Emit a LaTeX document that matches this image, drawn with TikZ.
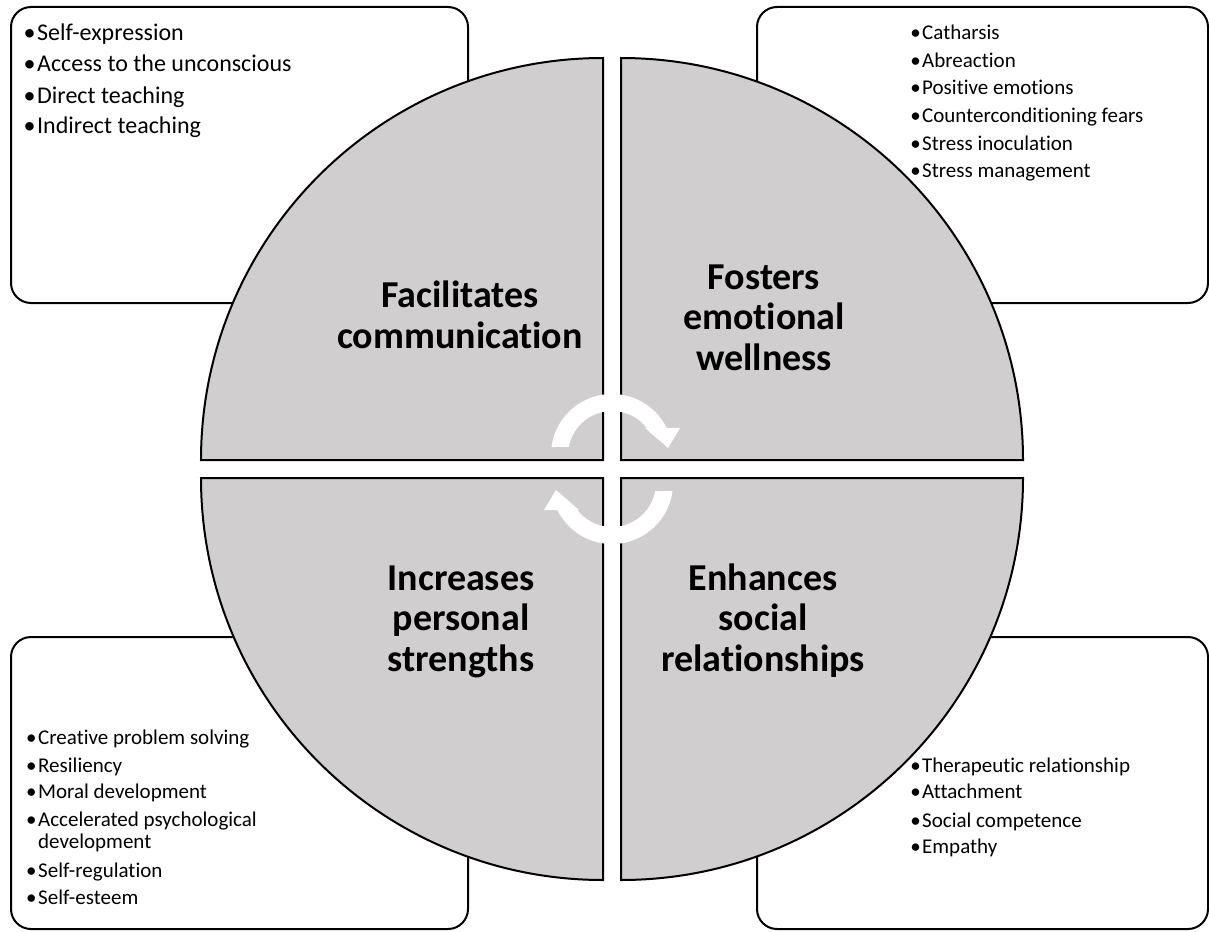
\documentclass[tikz,border=0pt]{standalone}
\usepackage{fontspec}
\setmainfont{Carlito}[Ligatures=NoCommon]
\definecolor{quadgray}{HTML}{D0CECE}
\newcommand{\bul}{\llap{•\kern1.5pt}}
\begin{document}
\begin{tikzpicture}[x=1pt,y=-1pt,
  box/.style={draw=black,line width=2pt,fill=white,rounded corners=20pt},
  quad/.style={draw=black,line width=2pt,fill=quadgray},
  cyc/.style={fill=white,draw=none},
  title/.style={font=\bfseries\fontsize{38}{40.5}\selectfont,align=center,inner sep=0pt,anchor=base},
  bigitem/.style={inner sep=0pt,anchor=base west,font=\fontsize{24}{29}\selectfont},
  item/.style={inner sep=0pt,anchor=base west,font=\fontsize{21}{23}\selectfont}]
\useasboundingbox (0,0) rectangle (1209,931);
% boxes
\draw[box] (11,7) rectangle (468,303);
\draw[box] (757,7) rectangle (1208,303);
\draw[box] (11,637) rectangle (468,929);
\draw[box] (757,637) rectangle (1208,929);
% quadrants
\draw[quad] (603,460) -- (201,460) arc[start angle=180,end angle=270,radius=402] -- cycle;
\draw[quad] (621,460) -- (621,58) arc[start angle=270,end angle=360,radius=402] -- cycle;
\draw[quad] (603,478) -- (603,880) arc[start angle=90,end angle=180,radius=402] -- cycle;
\draw[quad] (621,478) -- (1023,478) arc[start angle=0,end angle=90,radius=402] -- cycle;
% cycle arrows
\fill[cyc] (551.5,447) arc[start angle=-172.5,end angle=-26.3,radius=61] -- (680,428) -- (668,448) -- (645,428) -- (646.8,428) arc[start angle=-37.8,end angle=-169.5,radius=44] -- cycle;
\fill[cyc] (672.5,491) arc[start angle=7.5,end angle=153.7,radius=61] -- (544,510) -- (556,490) -- (579,510) -- (577.2,510) arc[start angle=142.2,end angle=10.5,radius=44] -- cycle;
% titles (anchor = baseline of last line)
\node[title] (tfc) at (460,348) {Facilitates\\communication};
\node[title] (tfe) at (764,370) {Fosters\\emotional\\wellness};
\node[title] (tip) at (461,671) {Increases\\personal\\strengths};
\node[title] (tes) at (763,671) {Enhances\\social\\relationships};
% top-left list
\node[bigitem] (a1) at (37,41) {\bul Self-expression};
\node[bigitem] (a2) at (37,72) {\bul Access to the unconscious};
\node[bigitem] (a3) at (37,103) {\bul Direct teaching};
\node[bigitem] (a4) at (37,133) {\bul Indirect teaching};
% top-right list
\node[item] (b1) at (922,40) {\bul Catharsis};
\node[item] (b2) at (922,68) {\bul Abreaction};
\node[item] (b3) at (922,95) {\bul Positive emotions};
\node[item] (b4) at (922,122) {\bul Counterconditioning fears};
\node[item] (b5) at (922,150) {\bul Stress inoculation};
\node[item] (b6) at (922,177) {\bul Stress management};
% bottom-left list
\node[item] (c1) at (38,744) {\bul Creative problem solving};
\node[item] (c2) at (38,772) {\bul Resiliency};
\node[item] (c3) at (38,798) {\bul Moral development};
\node[item] (c4) at (38,826) {\bul Accelerated psychological};
\node[item] (c4b) at (38,848) {development};
\node[item] (c5) at (38,877) {\bul Self-regulation};
\node[item] (c6) at (38,904) {\bul Self-esteem};
% bottom-right list
\node[item] (d1) at (922,772) {\bul Therapeutic relationship};
\node[item] (d2) at (922,798) {\bul Attachment};
\node[item] (d3) at (922,827) {\bul Social competence};
\node[item] (d4) at (922,853) {\bul Empathy};
\end{tikzpicture}
\end{document}
